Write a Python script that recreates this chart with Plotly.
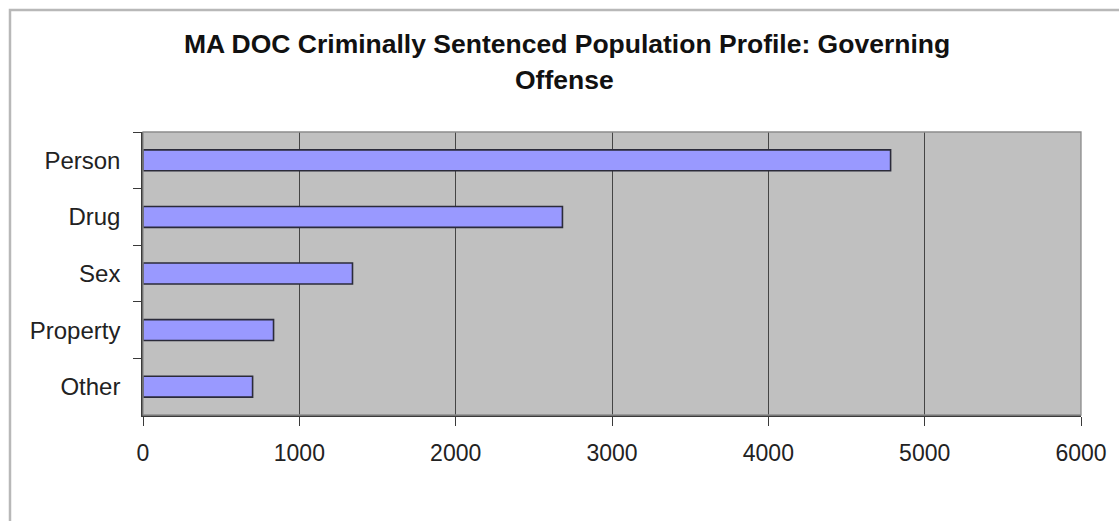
import plotly.graph_objects as go

categories = ["Person", "Drug", "Sex", "Property", "Other"]
values = [4782, 2683, 1340, 835, 701]
x_ticks = [0, 1000, 2000, 3000, 4000, 5000, 6000]
title_line1 = "MA DOC Criminally Sentenced Population Profile: Governing"
title_line2 = "Offense"

W, H = 1119, 521
L, R, T, B = 143, 1084.5, 132, 415

def px_x(p):
    return (p - L) / (R - L)

def px_y(p):
    return (B - p) / (B - T)

fig = go.Figure()
fig.add_trace(go.Bar(
    x=values, y=categories, orientation="h",
    marker=dict(color="#9999FF", line=dict(color="#2b2b3a", width=1.6)),
    width=0.37,
))

font_family = "Liberation Sans, Arial, sans-serif"

fig.update_layout(
    width=W, height=H,
    margin=dict(l=L, r=W - R, t=T, b=H - B, pad=0),
    paper_bgcolor="white",
    plot_bgcolor="#c0c0c0",
    showlegend=False,
    font=dict(family=font_family, size=23, color="#222222"),
    bargap=0.6,
    xaxis=dict(
        range=[0, 6000], tickvals=x_ticks, ticktext=[str(v) for v in x_ticks],
        showgrid=True, gridcolor="#454545", gridwidth=1.3,
        zeroline=False, showline=True, linecolor="#3a3a3a", linewidth=1.5,
        ticks="outside", ticklen=9, tickcolor="#3a3a3a", tickwidth=1.3,
        ticklabelstandoff=8, fixedrange=True,
        tickfont=dict(size=23),
    ),
    yaxis=dict(
        categoryorder="array", categoryarray=categories, autorange="reversed",
        showgrid=False, zeroline=False, showline=True, linecolor="#3a3a3a", linewidth=1.5,
        ticks="outside", ticklen=8, tickcolor="#3a3a3a", tickwidth=1.3,
        tickson="boundaries", ticklabelstandoff=16, fixedrange=True,
        tickfont=dict(size=24),
    ),
    shapes=[
        # outer chart frame (left and top visible)
        dict(type="rect", xref="paper", yref="paper",
             x0=px_x(9.5), x1=1.3, y0=-1.0, y1=px_y(10),
             line=dict(color="#b8b8b8", width=2.5), layer="below"),
        # plot area border
        dict(type="rect", xref="paper", yref="paper",
             x0=0, x1=1, y0=0, y1=1,
             line=dict(color="#8c8c8c", width=1.3), layer="above"),
    ],
    annotations=[
        dict(text="<b>%s</b>" % title_line1, xref="paper", yref="paper",
             x=px_x(569), y=px_y(44), xanchor="center", yanchor="middle",
             showarrow=False, font=dict(family=font_family, size=26.5, color="#111111")),
        dict(text="<b>%s</b>" % title_line2, xref="paper", yref="paper",
             x=px_x(566), y=px_y(80), xanchor="center", yanchor="middle",
             showarrow=False, font=dict(family=font_family, size=26.5, color="#111111")),
    ],
)

fig.write_html("out.html")
